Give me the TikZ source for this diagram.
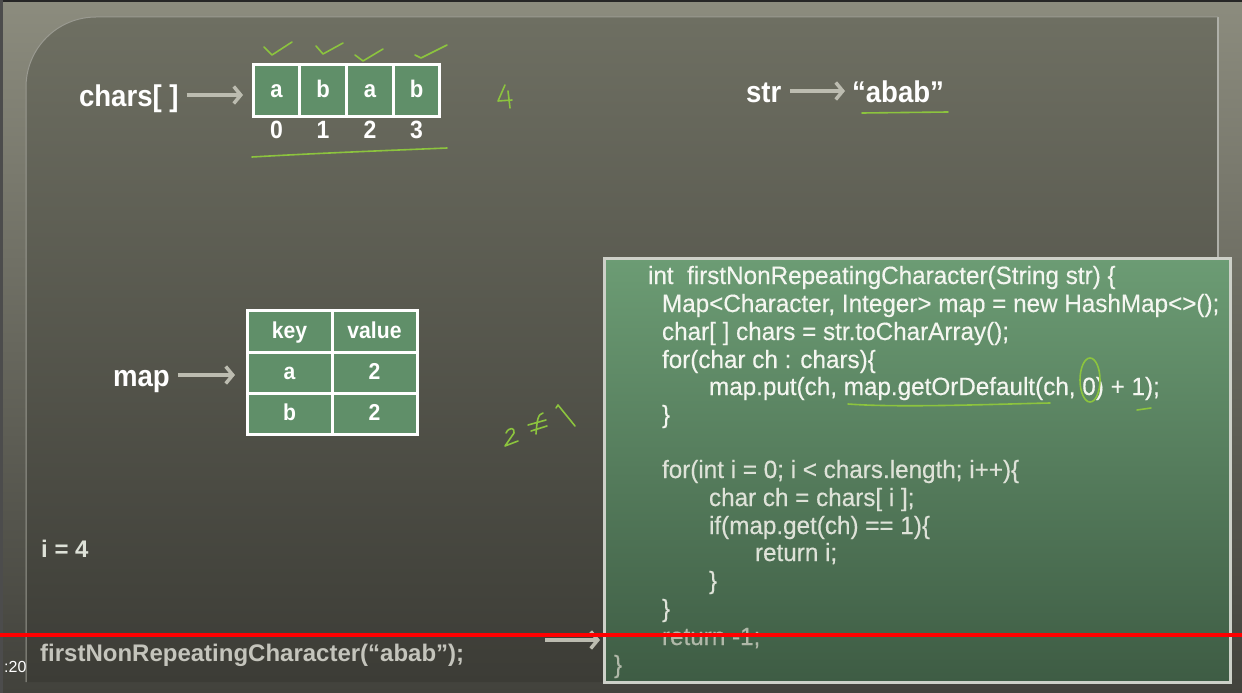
\documentclass[tikz,border=0pt]{standalone}
\usepackage{fontspec}
\setmainfont{Liberation Sans}
\newfontfamily\hdfont[FakeStretch=0.92]{Liberation Sans}
\newfontfamily\cdfont[FakeStretch=0.97,FakeBold=0.4]{Liberation Sans}
\usetikzlibrary{arrows.meta}
\definecolor{framelight}{RGB}{140,140,126}
\definecolor{framedark}{RGB}{66,66,60}
\definecolor{paneltop}{RGB}{110,111,98}
\definecolor{panelbot}{RGB}{60,60,54}
\definecolor{cellgreen}{RGB}{96,143,105}
\definecolor{codetop}{RGB}{108,156,116}
\definecolor{codebot}{RGB}{62,92,68}
\definecolor{codeborder}{RGB}{205,208,200}
\definecolor{arrowgray}{RGB}{188,188,176}
\definecolor{ink}{RGB}{140,196,62}
\definecolor{codewhite}{RGB}{244,246,240}
\definecolor{codegray}{RGB}{222,226,216}
\definecolor{codefade}{RGB}{176,184,168}
\definecolor{callgray}{RGB}{196,196,188}
\definecolor{redline}{RGB}{255,0,0}
\tikzset{
  hd/.style={anchor=base west, inner sep=0, outer sep=0, text height=22pt, text depth=0pt,
    text=white, font=\hdfont\bfseries\fontsize{30}{30}\selectfont},
  garrow/.style={draw=arrowgray, line width=3.5pt,
    -{Straight Barb[length=7pt,width=17pt,line width=3.5pt]}},
  cell/.style={draw=white, line width=3pt, fill=cellgreen, minimum width=46.75pt,
    minimum height=51pt, inner sep=0, outer sep=0, text=white, text height=13pt, text depth=0pt,
    font=\hdfont\bfseries\fontsize{24}{24}\selectfont},
  idx/.style={inner sep=0, text=white, font=\hdfont\bfseries\fontsize{25}{25}\selectfont},
  tcell/.style={draw=white, line width=3pt, fill=cellgreen, minimum width=85pt,
    minimum height=41.3pt, inner sep=0, outer sep=0, text=white, text height=13pt, text depth=0pt,
    font=\hdfont\bfseries\fontsize{23}{23}\selectfont},
  codeline/.style={anchor=base west, inner sep=0, outer sep=0, text=codewhite,
    font=\cdfont\fontsize{25}{25}\selectfont},
  ink/.style={draw=ink, line width=1.6pt, line cap=round, line join=round},
}
\begin{document}
\begin{tikzpicture}[x=1pt,y=-1pt]
\useasboundingbox (0,0) rectangle (1242,693);
% outer frame
\shade[top color=framelight, bottom color=framedark] (0,0) rectangle (1242,693);
\fill[black!85] (0,0) rectangle (1242,2);
\fill[black!70] (0,0) rectangle (3,693);
% panel
\shade[top color=paneltop, bottom color=panelbot]
  (26,682) -- (26,87) arc[start angle=180, end angle=270, radius=70] -- (1218,17) -- (1218,682) -- cycle;
\draw[white!45!paneltop, line width=1.5pt] (1218,17) -- (1218,682);
\draw[white!30!paneltop, line width=1pt] (26,682) -- (26,87) arc[start angle=180, end angle=270, radius=70] -- (1218,17);

% chars array
\node[hd] (charslbl) at (79,106) {chars[ ]};
\node[cell] (c0) at (276.4,90.5) {a};
\node[cell] (c1) at (323.1,90.5) {b};
\node[cell] (c2) at (369.9,90.5) {a};
\node[cell] (c3) at (416.6,90.5) {b};
\draw[garrow, shorten <=8pt, shorten >=10pt] (charslbl.east) -- (charslbl.east -| c0.west);
\node[idx] (i0) at (276.4,130) {0};
\node[idx] (i1) at (323.1,130) {1};
\node[idx] (i2) at (369.9,130) {2};
\node[idx] (i3) at (416.6,130) {3};

% str
\node[hd] (strlbl) at (746,102) {str};
\node[hd] (abab) at (852,102) {“abab”};
\draw[garrow, shorten <=9pt, shorten >=7pt] (strlbl.east) -- (abab.west);

% map
\node[hd] (maplbl) at (113,386) {map};
\node[tcell] (k) at (289.5,331.5) {key};
\node[tcell] (v) at (374.5,331.5) {value};
\node[tcell] (ka) at (289.5,372.8) {a};
\node[tcell] (va) at (374.5,372.8) {2};
\node[tcell] (kb) at (289.5,414.1) {b};
\node[tcell] (vb) at (374.5,414.1) {2};
\draw[garrow, shorten <=8pt, shorten >=12pt] (maplbl.east) -- (maplbl.east -| ka.west);

% i = 4 and call
\node[anchor=base west, inner sep=0, text=codegray, font=\bfseries\fontsize{24}{24}\selectfont] (ival) at (41,557) {i = 4};
\node[anchor=base west, inner sep=0, text=callgray, font=\bfseries\fontsize{24}{24}\selectfont] (call) at (40,661) {firstNonRepeatingCharacter(“abab”);};
\node[anchor=base west, inner sep=0, text=white, font=\fontsize{16}{16}\selectfont] (ts) at (4,672) {:20};

% code box
\shade[top color=codetop, bottom color=codebot] (604,258) rectangle (1230,682);
\node[draw=codeborder, line width=3pt, minimum width=626pt, minimum height=424pt, inner sep=0, outer sep=0] (code) at (917,470) {};
\coordinate (callarrow) at (545,640);
\draw[garrow, shorten >=4pt] (callarrow) -- (callarrow -| code.west);

\node[codeline] (l1) at (648,284) {int~~firstNonRepeatingCharacter(String str) \{};
\node[codeline] (l2) at (662,312) {Map<Character, Integer> map = new HashMap<>();};
\node[codeline] (l3) at (662,340) {char[ ] chars = str.toCharArray();};
\node[codeline] (l4) at (662,368) {for(char ch : chars)\{};
\node[codeline] (l5) at (709,395) {map.put(ch, map.getOrDefault(ch, 0) + 1);};
\node[codeline] (l6) at (662,423) {\}};
\node[codeline, text=codegray] (l8) at (662,478) {for(int i = 0; i < chars.length; i++)\{};
\node[codeline, text=codegray] (l9) at (709,506) {char ch = chars[ i ];};
\node[codeline, text=codegray] (l10) at (709,534) {if(map.get(ch) == 1)\{};
\node[codeline, text=codegray] (l11) at (755,561) {return i;};
\node[codeline, text=codegray] (l12) at (709,589) {\}};
\node[codeline, text=codegray] (l13) at (662,617) {\}};
\node[codeline, text=codefade] (l14) at (662,645) {return -1;};
\node[codeline, text=codefade] (l15) at (614,673) {\}};

% handwritten ink
\draw[ink] (264,47) -- (272,55) -- (292,42);
\draw[ink] (316,46) -- (323,54) -- (343,43);
\draw[ink] (355,55) -- (363,61) -- (383,49);
\draw[ink] (415,55) -- (421,58) -- (447,45);
\draw[ink] (505,85) -- (498,101) -- (512,100);
\draw[ink] (508,91) -- (510,108);
\draw[ink] (252,157) .. controls (320,153) and (400,150) .. (447,148);
\draw[ink] (862,113) -- (948,112);
\draw[ink] (506,433) .. controls (509,427) and (515,427) .. (514,433) -- (505,446) -- (518,441);
\draw[ink] (543,413) .. controls (538,414) and (537,420) .. (536,434);
\draw[ink] (528,425) -- (546,420);
\draw[ink] (531,431) -- (547,426);
\draw[ink] (556,408) -- (558,405) -- (575,426);
\draw[ink] (848,404) .. controls (900,408) and (1000,404) .. (1050,403);
\draw[ink] (1090,380) ellipse[x radius=10, y radius=22];
\draw[ink] (1137,410) -- (1151,408);

% red progress line
\fill[redline] (0,633) rectangle (1242,637);
\end{tikzpicture}
\end{document}
